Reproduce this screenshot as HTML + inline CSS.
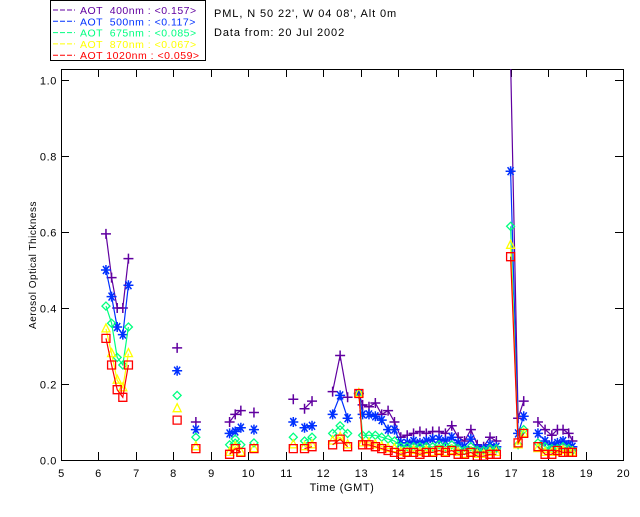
<!DOCTYPE html>
<html><head><meta charset="utf-8"><style>
body{margin:0;background:#fff;width:640px;height:512px;overflow:hidden}
svg text{font-family:"Liberation Sans",sans-serif;font-size:11px;letter-spacing:0.6px}
</style></head><body>
<svg id="c" width="640" height="512">
<g>
<rect x="50.5" y="0.5" width="155" height="60" fill="#fff" stroke="#000"/>
<g id="leg"></g>
</g>
<text x="214" y="17" style="letter-spacing:0.9px">PML, N 50 22', W 04 08', Alt 0m</text>
<text x="214" y="36" style="letter-spacing:0.9px">Data from: 20 Jul 2002</text>
<g id="axes"></g>
<g id="plot"></g>
</svg>
<script>
const times=[6.2,6.35,6.5,6.65,6.8,null,8.1,null,8.6,null,9.5,9.65,9.8,null,10.15,null,11.2,null,11.5,11.7,null,12.25,12.45,12.65,null,12.95,13.05,13.22,13.39,13.56,13.73,13.9,14.07,14.24,14.41,14.58,14.75,14.92,15.09,15.26,15.43,15.6,15.77,15.94,16.11,16.28,16.45,16.62,null,17.0,17.2,17.35,null,17.73,17.92,18.1,18.25,18.4,18.55,18.65];
const aot400=[0.595,0.48,0.40,0.40,0.53,null,0.295,null,0.10,null,0.10,0.12,0.13,null,0.125,null,0.16,null,0.135,0.155,null,0.18,0.275,0.165,null,0.175,0.145,0.14,0.15,0.12,0.13,0.10,0.06,0.065,0.07,0.075,0.07,0.075,0.075,0.07,0.09,0.06,0.05,0.08,0.04,0.035,0.06,0.05,null,1.05,0.11,0.155,null,0.10,0.08,0.065,0.08,0.08,0.07,0.05];
const aot500=[0.50,0.43,0.35,0.33,0.46,null,0.235,null,0.08,null,0.07,0.075,0.085,null,0.08,null,0.10,null,0.085,0.09,null,0.12,0.17,0.11,null,0.175,0.12,0.12,0.115,0.105,0.08,0.08,0.045,0.045,0.05,0.045,0.05,0.055,0.055,0.05,0.06,0.045,0.035,0.055,0.03,0.03,0.04,0.035,null,0.76,0.07,0.115,null,0.07,0.05,0.04,0.045,0.05,0.04,0.035];
const aot675=[0.405,0.36,0.27,0.25,0.35,null,0.17,null,0.06,null,0.04,0.055,0.04,null,0.045,null,0.06,null,0.05,0.06,null,0.07,0.09,0.07,null,0.175,0.065,0.065,0.065,0.06,0.055,0.05,0.035,0.035,0.035,0.035,0.035,0.035,0.04,0.035,0.04,0.03,0.025,0.035,0.025,0.025,0.03,0.03,null,0.615,0.04,0.08,null,0.045,0.035,0.03,0.03,0.035,0.03,0.025];
const aot870=[0.345,0.28,0.21,0.19,0.28,null,0.135,null,0.035,null,0.02,0.035,0.02,null,0.03,null,0.04,null,0.035,0.04,null,0.05,0.06,0.04,null,0.175,0.045,0.045,0.04,0.035,0.03,0.03,0.02,0.02,0.025,0.02,0.025,0.02,0.025,0.02,0.025,0.02,0.015,0.02,0.015,0.015,0.02,0.02,null,0.565,0.04,0.07,null,0.03,0.02,0.02,0.02,0.025,0.02,0.02];
const aot1020=[0.32,0.25,0.185,0.165,0.25,null,0.105,null,0.03,null,0.015,0.03,0.02,null,0.03,null,0.03,null,0.03,0.035,null,0.04,0.055,0.035,null,0.175,0.04,0.04,0.035,0.03,0.025,0.02,0.015,0.02,0.02,0.015,0.02,0.02,0.025,0.02,0.025,0.015,0.015,0.02,0.01,0.01,0.015,0.015,null,0.535,0.045,0.07,null,0.035,0.015,0.015,0.025,0.02,0.02,0.02];
const xTicks=[5,6,7,8,9,10,11,12,13,14,15,16,17,18,19,20];
const yTicks=[0.0,0.2,0.4,0.6,0.8,1.0];
const seriesNames=["400nm","500nm","675nm","870nm","1020nm"];
const seriesMeans=["0.157","0.117","0.085","0.067","0.059"];

const NS="http://www.w3.org/2000/svg";
const X0=61,X1=623,Y0=460,YT=69;
const xs=v=>X0+(v-5)*(X1-X0)/15;
const ys=v=>Y0-v*380;
function mk(t,a,p){const e=document.createElementNS(NS,t);for(const k in a)e.setAttribute(k,a[k]);p.appendChild(e);return e;}
const axes=document.getElementById('axes'),plot=document.getElementById('plot'),leg=document.getElementById('leg');
const frame=mk('rect',{x:X0+.5,y:YT+.5,width:X1-X0,height:Y0-YT,fill:'none',stroke:'#000'},axes);


xTicks.forEach(t=>{const x=Math.round(xs(t))+.5;
 const l=mk('path',{d:`M${x} ${Y0}v-8M${x} ${YT}v8`,stroke:'#000'},axes);
 
 
 const tx=mk('text',{x:x,y:Y0+17,'text-anchor':'middle'},axes);tx.textContent=t;
 
 });
yTicks.forEach(t=>{const y=Math.round(ys(t))+.5;
 const l=mk('path',{d:`M${X0} ${y}h8M${X1} ${y}h-8`,stroke:'#000'},axes);
 
 
 const tx=mk('text',{x:X0-4,y:y+4,'text-anchor':'end'},axes);tx.textContent=t.toFixed(1);
 
 });
const xt=mk('text',{x:(X0+X1)/2,y:491,'text-anchor':'middle'},axes);xt.textContent='Time (GMT)';


const yt=mk('text',{x:0,y:0,'text-anchor':'middle',transform:'translate(36,265) rotate(-90)',style:'font-size:10px;letter-spacing:0.5px'},axes);yt.textContent='Aerosol Optical Thickness';



const colors=['#6000a0','#0030ff','#00ff80','#ffff00','#ff0000'];
const data=[aot400,aot500,aot675,aot870,aot1020];
const clip=mk('clipPath',{id:'cp'},plot);mk('rect',{x:X0,y:YT,width:X1-X0,height:Y0-YT},clip);
function marker(i,x,y,g){const c=colors[i];let d;
 if(i==0)d=`M${x-5} ${y}h10M${x} ${y-5}v10`;
 else if(i==1)d=`M${x-5} ${y}h10M${x-3} ${y-4}l6 8M${x+3} ${y-4}l-6 8M${x} ${y-5}v10`;
 else if(i==2)d=`M${x} ${y-4}l4 4l-4 4l-4 -4z`;
 else if(i==3)d=`M${x} ${y-5}l4 8h-8z`;
 else d=`M${x-4} ${y-4}h8v8h-8z`;
 const m=mk('path',{d:d,stroke:c,fill:'none','stroke-width':i>=2?1.3:1.5},g);
 
 }
data.forEach((s,i)=>{
 const g=mk('g',{'clip-path':'url(#cp)'},plot);
 
 
 let d='',pen=false;
 s.forEach((v,k)=>{if(v==null||times[k]==null){pen=false;return;}
  d+=(pen?'L':'M')+xs(times[k]).toFixed(1)+' '+ys(v).toFixed(1);pen=true;});
 const ln=mk('path',{d:d,stroke:colors[i],fill:'none','stroke-width':1.2},g);
 
 
 s.forEach((v,k)=>{if(v==null||times[k]==null)return;marker(i,xs(times[k]),ys(v),g);});
 const ly=13+i*11.3;
 const lp=mk('path',{d:`M53 ${ly-3}h22`,stroke:colors[i],'stroke-dasharray':'5 2'},leg);
 
 
 const lt=mk('text',{x:80,y:ly+1,fill:colors[i],style:'font-size:10.5px;letter-spacing:0.5px;white-space:pre'},leg);
 lt.textContent='AOT '+(seriesNames[i].length<6?' ':'')+seriesNames[i]+' : <'+seriesMeans[i]+'>';
 
 
});
</script>
</body></html>
